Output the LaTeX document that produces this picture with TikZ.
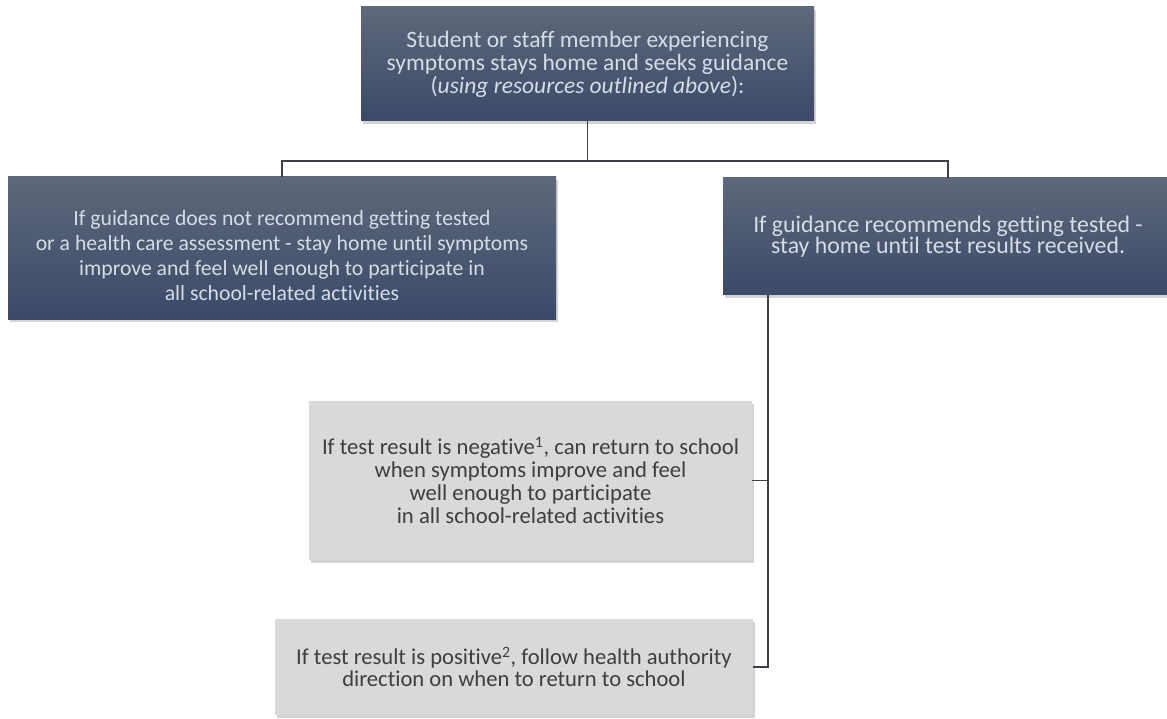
\documentclass[tikz,border=0pt]{standalone}
\usepackage{fontspec}
\setmainfont{Carlito}[RawFeature=-liga]
\usetikzlibrary{positioning,shadows}
\definecolor{slatetop}{RGB}{94,104,122}
\definecolor{slatebot}{RGB}{58,74,104}
\definecolor{slatetext}{RGB}{214,220,230}
\definecolor{paleface}{RGB}{217,217,217}
\definecolor{inktext}{RGB}{62,62,62}
\definecolor{wire}{RGB}{62,64,72}

\begin{document}
\begin{tikzpicture}[x=1pt,y=1pt,
    every node/.style={align=center,inner sep=0pt},
    guidance/.style={rectangle,top color=slatetop,bottom color=slatebot,text=slatetext,font=\fontsize{23.5}{23}\selectfont,drop shadow={shadow xshift=1.5pt,shadow yshift=-3pt,opacity=0.35}},
    outcome/.style={rectangle,fill=paleface,text=inktext,font=\fontsize{22.7}{23}\selectfont,drop shadow={shadow xshift=1.5pt,shadow yshift=-3pt,opacity=0.35}},
    link/.style={draw=wire,line width=1.6pt}
]
\useasboundingbox (0,0) rectangle (1167,-719);

% Starting point
\node[guidance,minimum width=453pt,minimum height=114pt] (start) at (587.5,-64) {Student or staff member experiencing\\symptoms stays home and seeks guidance\\(\textit{using resources outlined above}):};

% Guidance branches
\node[guidance,minimum width=548pt,minimum height=142pt,font=\fontsize{21.7}{25}\selectfont] (notest) at (282,-248) {\rule{0pt}{30pt}If guidance does not recommend getting tested\\or a health care assessment - stay home until symptoms\\improve and feel well enough to participate in\\all school-related activities};
\node[guidance,minimum width=450pt,minimum height=117pt,font=\fontsize{23.8}{20}\selectfont] (test) at (948,-236.5) {If guidance recommends getting tested -\\stay home until test results received.};

% Test results
\node[outcome,minimum width=443pt,minimum height=159pt] (negative) at (530.5,-480.5) {If test result is negative\textsuperscript{1}, can return to school\\when symptoms improve and feel\\well enough to participate\\in all school-related activities};
\node[outcome,minimum width=478pt,minimum height=96pt,font=\fontsize{22.6}{22}\selectfont] (positive) at (514,-667) {If test result is positive\textsuperscript{2}, follow health authority\\direction on when to return to school};

% Connections
\draw[link] (start.south) -- ++(0,-40) coordinate (split);
\draw[link] (notest.north) |- (split) -| (test.north);
\path (test.south west) ++(45,0) coordinate (trunk);
\draw[link] (trunk) -- (trunk |- positive.east) -- (positive.east);
\draw[link] (negative.east) -- (trunk |- negative.east);

\end{tikzpicture}
\end{document}
